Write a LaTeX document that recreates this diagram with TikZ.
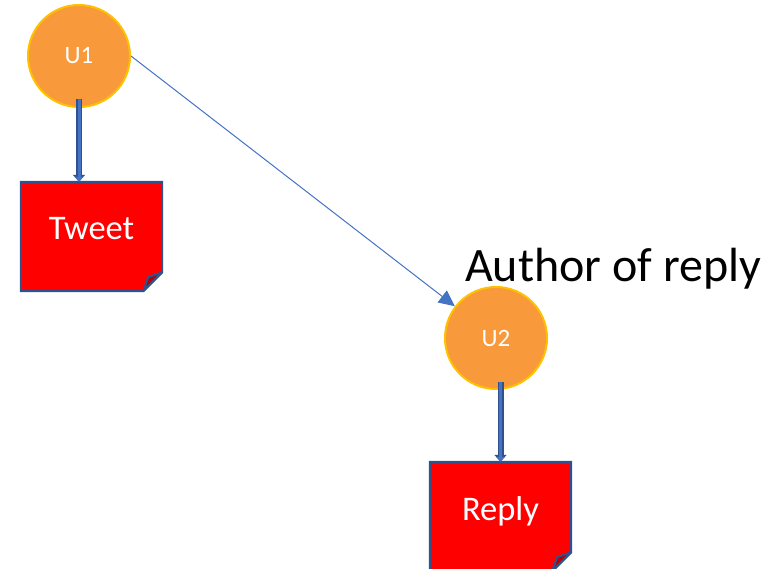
\documentclass[tikz,border=0pt]{standalone}
\usepackage{fontspec}
\setmainfont{Carlito}
\usetikzlibrary{arrows.meta,positioning,backgrounds}
\definecolor{userfill}{HTML}{F8993B}
\definecolor{userline}{HTML}{FFC000}
\definecolor{linkblue}{HTML}{4472C4}
\definecolor{darkblue}{HTML}{2F528F}
\definecolor{foldred}{HTML}{B00000}

\begin{document}
\begin{tikzpicture}
[x=1pt,y=1pt,on grid,
user/.style={circle,minimum size=102pt,inner sep=0pt,line width=2pt,draw=userline,fill=userfill,
  text=white,font=\fontsize{25}{25}\selectfont},
doc/.style={rectangle,minimum width=141pt,minimum height=109pt,inner sep=0pt,text=white,
  text depth=16pt,font=\fontsize{34.5}{34.5}\selectfont},
doc shape/.style={line width=2pt,draw=darkblue,fill=red},
fold/.style={line width=2pt,draw=darkblue,fill=foldred,line join=round},
owns/.style={line width=3pt,draw=linkblue,-{Triangle[length=5pt,width=8pt]},
  preaction={draw=darkblue,line width=6pt,-{Triangle[length=7pt,width=12pt]}}},
reply link/.style={line width=1pt,draw=linkblue,-{Triangle[length=16pt,width=15pt]}},
caption/.style={font=\fontsize{48}{48}\selectfont,anchor=base west,inner sep=0pt}]
\useasboundingbox (0,0) rectangle (779,-569);
\node [user] (u1) at (79,-56) {U1};
\node [doc] (tweet) [below=180.5pt of u1,xshift=12.5pt] {Tweet};
\node [user] (u2) at (496,-338) {U2};
\node [doc] (reply) [below=178.5pt of u2,xshift=4.5pt] {Reply};
\node [caption] (author) at (465,-282) {Author of reply};
% ownership arrows
\draw [owns] ([yshift=9pt]u1.south) -- (u1 |- tweet.north);
\draw [owns] ([yshift=8pt]u2.south -| reply.north) -- (reply.north);
% reply relation
\draw [reply link] (u1.east) -- (u2);
\begin{scope}[on background layer]
\foreach \n in {tweet,reply} {
  \filldraw [doc shape] (\n.north west) -- (\n.north east) -- ([yshift=19pt]\n.south east)
    -- ([xshift=-19pt]\n.south east) -- (\n.south west) -- cycle;
  \filldraw [fold] ([yshift=19pt]\n.south east) -- ([xshift=-14pt,yshift=14pt]\n.south east)
    -- ([xshift=-19pt]\n.south east) -- cycle;
}
\end{scope}
\end{tikzpicture}
\end{document}
